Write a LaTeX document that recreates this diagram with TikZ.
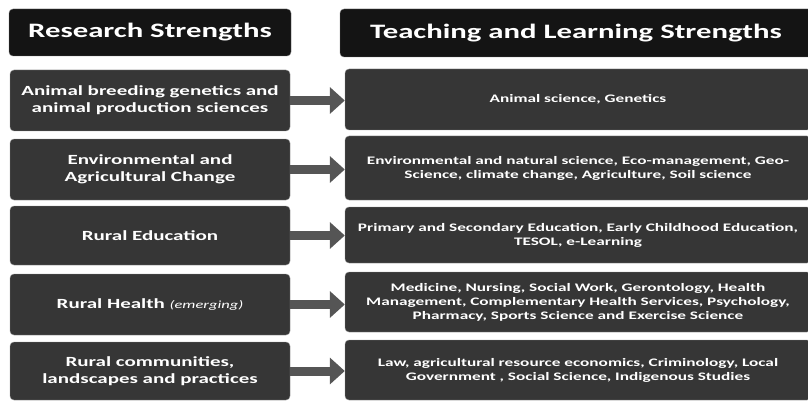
\documentclass[tikz,border=0pt]{standalone}
\usepackage{fontspec}
\setmainfont{Carlito}[FakeStretch=1.5]
\usetikzlibrary{arrows.meta}
\definecolor{hdrgray}{HTML}{141414}
\definecolor{boxgray}{HTML}{363636}
\definecolor{arrowgray}{HTML}{555555}
\begin{document}
\begin{tikzpicture}[x=1pt, y=-1pt,
    every node/.style = {shape=rectangle, rounded corners=4pt, align=center,
      text=white, font=\bfseries, inner sep=2pt},
    hdr/.style = {fill=hdrgray, draw=black!55, font=\bfseries\fontsize{20.5}{24}\selectfont},
    lbox/.style = {fill=boxgray, draw=black!45, minimum width=280pt, text width=272pt,
      font=\bfseries\fontsize{14}{17}\selectfont},
    rbox/.style = {fill=boxgray, draw=black!45, minimum width=466pt, text width=458pt,
      font=\bfseries\fontsize{11.5}{14}\selectfont},
    link/.style = {draw=arrowgray, line width=9pt,
      -{Triangle[length=15pt, width=26pt]}}]
  \useasboundingbox (0,0) rectangle (808,401);
  \clip (0,0) rectangle (808,401);
  % column heads
  \node[hdr, minimum width=282pt, minimum height=47pt] (hleft) at (150,32.5) {Research Strengths};
  \node[hdr, minimum width=472pt, minimum height=48pt] (hright) at (576,33) {Teaching and Learning Strengths};
  % research strengths
  \node[lbox, minimum height=61pt] (r1) at (150,100.5) {Animal breeding genetics and\\animal production sciences};
  \node[lbox, minimum height=61pt] (r2) at (150,169.5) {Environmental and\\Agricultural Change};
  \node[lbox, minimum height=59pt] (r3) at (150,235.5) {Rural Education};
  \node[lbox, minimum height=61pt] (r4) at (150,304.5) {Rural Health {\mdseries\itshape\fontsize{11}{13}\selectfont(emerging)}};
  \node[lbox, minimum height=58pt] (r5) at (150,371) {Rural communities,\\landscapes and practices};
  % teaching and learning strengths
  \node[rbox, minimum height=61pt] (t1) at (578,99.5) {Animal science, Genetics};
  \node[rbox, minimum height=64pt] (t2) at (578,168) {Environmental and natural science, Eco-management, Geo-\\Science, climate change, Agriculture, Soil science};
  \node[rbox, minimum height=56pt] (t3) at (578,235) {Primary and Secondary Education, Early Childhood Education,\\TESOL, e-Learning};
  \node[rbox, minimum height=60pt] (t4) at (578,302) {Medicine, Nursing, Social Work, Gerontology, Health\\Management, Complementary Health Services, Psychology,\\Pharmacy, Sports Science and Exercise Science};
  \node[rbox, minimum height=60pt] (t5) at (578,370) {Law, agricultural resource economics, Criminology, Local\\Government , Social Science, Indigenous Studies};
  % arrows
  \foreach \i in {1,...,5}
    \draw[link] (r\i.east) -- (r\i.east -| t\i.west);
\end{tikzpicture}
\end{document}
